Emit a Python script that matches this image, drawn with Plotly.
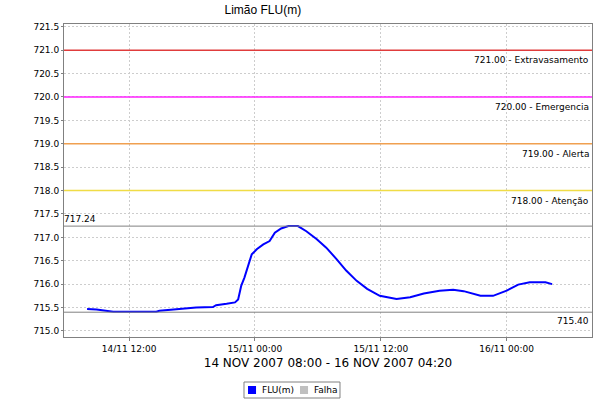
import plotly.graph_objects as go
import pandas as pd

# ---- data ----
hours_from_start = [0, 0.9, 2.5, 6.6, 6.9, 8.2, 9.2, 10.4, 12.0, 12.3, 13.3, 14.1, 14.4,
                    14.7, 15.0, 15.4, 15.7, 16.2, 16.8, 17.4, 17.9, 18.5, 19.2, 20.1,
                    20.9, 21.9, 22.8, 23.8, 24.7, 25.7, 26.7, 27.9, 29.5, 30.8, 32.1,
                    33.6, 34.9, 35.9, 37.5, 38.7, 40.0, 41.1, 42.2, 43.7, 44.33]
flu_values = [715.47, 715.46, 715.41, 715.41, 715.43, 715.46, 715.48, 715.50, 715.51,
              715.55, 715.58, 715.61, 715.67,
              715.97, 716.14, 716.46, 716.64, 716.75, 716.85, 716.92, 717.10, 717.19,
              717.24, 717.24, 717.13, 716.96, 716.78, 716.53, 716.29, 716.07, 715.90,
              715.75, 715.68, 715.72, 715.80, 715.86, 715.88, 715.85, 715.75, 715.75,
              715.86, 715.99, 716.04, 716.04, 716.00]
start_time = "2007-11-14 08:00"

threshold_values = [721.00, 720.00, 719.00, 718.00]
threshold_labels = ["721.00 - Extravasamento", "720.00 - Emergencia", "719.00 - Alerta", "718.00 - Atenção"]
threshold_colors = ["#e03c3c", "#ff22ff", "#f0a050", "#f0dc46"]
max_value = 717.24
min_value = 715.40

legend_labels = ["FLU(m)", "Falha"]
legend_colors = ["rgb(0,0,255)", "rgb(192,192,192)"]

x_tick_values = ["2007-11-14 12:00", "2007-11-15 00:00", "2007-11-15 12:00", "2007-11-16 00:00"]
y_tick_values = [715.0, 715.5, 716.0, 716.5, 717.0, 717.5, 718.0, 718.5, 719.0, 719.5,
                 720.0, 720.5, 721.0, 721.5]

# ---- build ----
t0 = pd.Timestamp(start_time)
times = [t0 + pd.Timedelta(hours=h) for h in hours_from_start]

fig = go.Figure()
fig.add_trace(go.Scatter(x=times, y=flu_values, mode="lines", name=legend_labels[0],
                         line=dict(color=legend_colors[0], width=2),
                         showlegend=False, hoverinfo="skip"))

font_family = "DejaVu Sans"
shapes = []
annotations = []
for v in [max_value, min_value]:
    shapes.append(dict(type="line", xref="paper", x0=0, x1=1, yref="y", y0=v, y1=v,
                       layer="above", line=dict(color="rgb(128,128,128)", width=1)))
for v, lab, col in zip(threshold_values, threshold_labels, threshold_colors):
    shapes.append(dict(type="line", xref="paper", x0=0, x1=1, yref="y", y0=v, y1=v,
                       layer="above", line=dict(color=col, width=1.5)))
    annotations.append(dict(xref="paper", x=1, yref="y", y=v, text=lab, showarrow=False,
                            xanchor="right", yanchor="top", yshift=-3, xshift=-1,
                            font=dict(size=9, color="black", family=font_family)))
annotations.append(dict(xref="paper", x=0, yref="y", y=max_value, text=f"{max_value:.2f}",
                        showarrow=False, xanchor="left", yanchor="bottom", yshift=0, xshift=-2,
                        font=dict(size=9, color="black", family=font_family)))
annotations.append(dict(xref="paper", x=1, yref="y", y=min_value, text=f"{min_value:.2f}",
                        showarrow=False, xanchor="right", yanchor="top", yshift=-2, xshift=-1,
                        font=dict(size=9, color="black", family=font_family)))

# legend box (below the plot, centred like the original)
shapes.append(dict(type="rect", xref="paper", yref="paper", x0=0.3409, x1=0.5227,
                   y0=-0.1949, y1=-0.1438, line=dict(color="rgb(128,128,128)", width=1),
                   fillcolor="white", layer="above"))
legend_sq_x = [0.3485, 0.4470]
legend_tx_x = [0.3712, 0.4697]
for lab, col, sx, tx in zip(legend_labels, legend_colors, legend_sq_x, legend_tx_x):
    shapes.append(dict(type="rect", xref="paper", yref="paper", x0=sx, x1=sx + 0.0152,
                       y0=-0.1821, y1=-0.1565, line=dict(width=0), fillcolor=col,
                       layer="above"))
    annotations.append(dict(xref="paper", yref="paper", x=tx, y=-0.1693, text=lab,
                            showarrow=False, xanchor="left", yanchor="middle",
                            font=dict(size=9, color="black", family=font_family)))

fig.update_layout(
    width=600, height=400,
    margin=dict(l=64, r=8, t=24, b=63, autoexpand=False),
    paper_bgcolor="white", plot_bgcolor="white",
    title=dict(text="Limão FLU(m)", x=0.438, xanchor="center", xref="container",
               y=0.975, yanchor="middle",
               font=dict(size=12, color="black", family="Liberation Sans")),
    shapes=shapes, annotations=annotations,
    showlegend=False,
    font=dict(family=font_family, color="black"),
)
fig.update_xaxes(
    range=[pd.Timestamp("2007-11-14 05:48"), pd.Timestamp("2007-11-16 08:08")],
    tickvals=[pd.Timestamp(s) for s in x_tick_values],
    tickformat="%d/%m %H:%M",
    tickfont=dict(size=9, family=font_family),
    ticks="outside", ticklen=3, tickcolor="rgb(128,128,128)",
    showgrid=True, gridcolor="rgb(205,205,205)", griddash="2px,2px", gridwidth=1,
    showline=True, linecolor="rgb(128,128,128)", mirror=True, zeroline=False,
    automargin=False,
    title=dict(text="14 NOV 2007 08:00 - 16 NOV 2007 04:20", standoff=5,
               font=dict(size=12, family=font_family)),
)
fig.update_yaxes(
    range=[714.87, 721.56],
    tickvals=y_tick_values, tickformat=".1f",
    tickfont=dict(size=9, family=font_family),
    ticks="outside", ticklen=2, tickcolor="rgb(128,128,128)",
    showgrid=True, gridcolor="rgb(205,205,205)", griddash="2px,2px", gridwidth=1,
    showline=True, linecolor="rgb(128,128,128)", mirror=True, zeroline=False,
    automargin=False,
)

fig.write_html("out.html", config={"displayModeBar": False},
               post_script="document.body.style.margin='0';")
